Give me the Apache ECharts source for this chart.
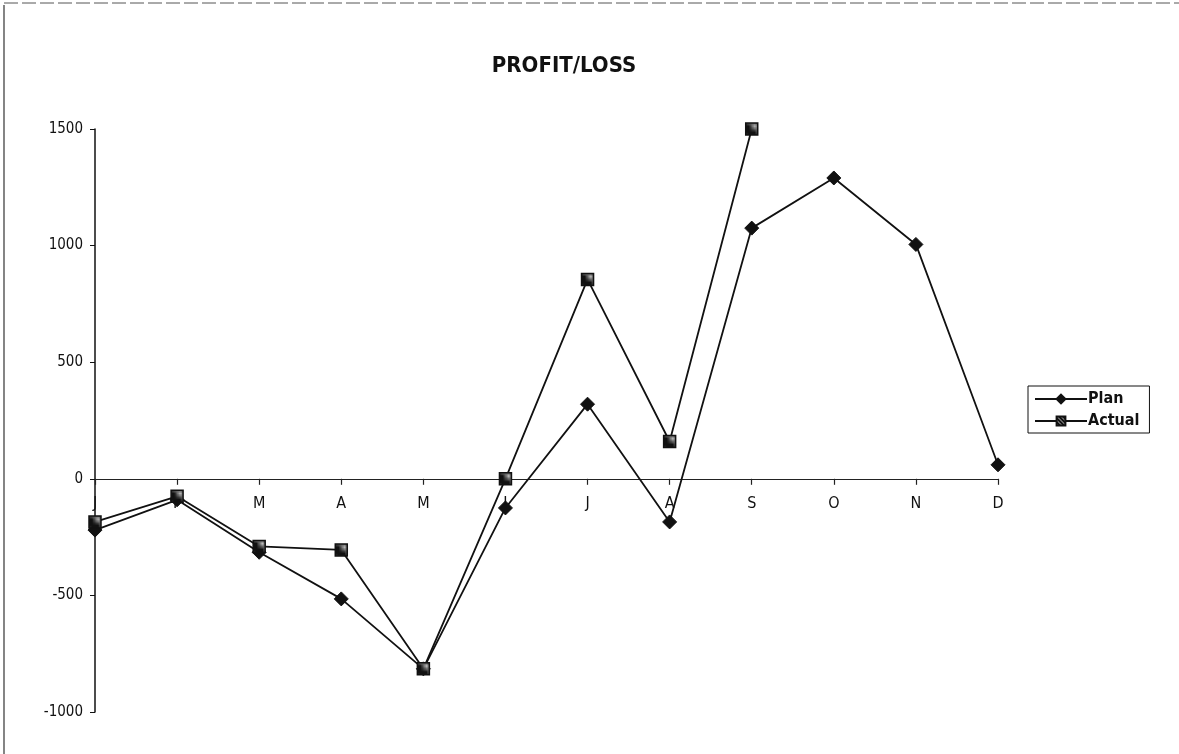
<!DOCTYPE html>
<html>
<head>
<meta charset="utf-8">
<script src="https://cdn.jsdelivr.net/npm/echarts@6/dist/echarts.min.js"></script>
<style>
html,body{margin:0;padding:0;background:#fff;}
#chart{width:1179px;height:754px;}
</style>
</head>
<body>
<div id="chart"></div>
<script>
const months = ['J','F','M','A','M','J','J','A','S','O','N','D'];
const planValues = [-220, -90, -315, -515, -815, -125, 320, -185, 1075, 1290, 1005, 60];
const actualValues = [-185, -75, -290, -305, -815, 0, 855, 160, 1500, null, null, null];
const yTicks = { min: -1000, max: 1500, step: 500 };

const FONT = '"Liberation Sans Narrow", "Arial Narrow", "DejaVu Sans Condensed", "Liberation Sans", sans-serif';

// hatched fill for the Actual markers
const pc = document.createElement('canvas');
pc.width = 4; pc.height = 4;
const pctx = pc.getContext('2d');
pctx.fillStyle = '#111';
pctx.fillRect(0, 0, 4, 4);
pctx.fillStyle = '#bbb';
pctx.fillRect(1, 0, 1, 1);
pctx.fillRect(3, 2, 1, 1);
pctx.fillRect(0, 3, 1, 1);
pctx.fillRect(2, 1, 1, 1);

const GRID = { left: 95, right: 181, top: 129, bottom: 42 };
const plotH = 754 - GRID.top - GRID.bottom;
// distance of the zero line above the bottom edge of the plot (derived from the axis range)
const zeroOffset = -plotH * (0 - yTicks.min) / (yTicks.max - yTicks.min);

const chart = echarts.init(document.getElementById('chart'));
chart.setOption({
  animation: false,
  backgroundColor: '#fff',
  title: {
    text: 'PROFIT/LOSS',
    left: 559,
    top: 50,
    textAlign: 'center',
    textStyle: { fontFamily: FONT, fontSize: 22, fontWeight: 'bold', color: '#111' }
  },
  legend: {
    orient: 'vertical',
    left: 1028,
    top: 386,
    itemWidth: 52,
    itemHeight: 11,
    itemGap: 6,
    padding: [5, 10, 4, 6],
    borderColor: '#111',
    borderWidth: 1,
    textStyle: { fontFamily: FONT, fontSize: 16, fontWeight: 'bold', color: '#111', padding: [0, 0, 0, -4] },
    data: ['Plan', 'Actual']
  },
  grid: { left: GRID.left, right: GRID.right, top: GRID.top, bottom: GRID.bottom, containLabel: false },
  xAxis: {
    type: 'category',
    data: months,
    boundaryGap: false,
    offset: zeroOffset,
    axisLine: { onZero: false, lineStyle: { color: '#222', width: 1.2 } },
    axisTick: { show: true, length: 6, alignWithLabel: true, lineStyle: { color: '#222', width: 1.2 } },
    axisLabel: { margin: 17, fontFamily: FONT, fontSize: 16, color: '#111', interval: 0 },
    splitLine: { show: false }
  },
  yAxis: {
    type: 'value',
    min: yTicks.min,
    max: yTicks.max,
    interval: yTicks.step,
    axisLine: { show: true, onZero: false, lineStyle: { color: '#111', width: 1.5 } },
    axisTick: { show: true, length: 5, lineStyle: { color: '#111' } },
    axisLabel: { margin: 12, fontFamily: FONT, fontSize: 15, color: '#111', formatter: v => String(v) },
    splitLine: { show: false }
  },
  series: [
    {
      name: 'Plan',
      type: 'line',
      data: planValues,
      symbol: 'diamond',
      symbolSize: 14,
      showAllSymbol: true,
      lineStyle: { color: '#111', width: 1.8 },
      itemStyle: { color: '#111', borderColor: '#111', borderWidth: 1 },
      z: 2
    },
    {
      name: 'Actual',
      type: 'line',
      data: actualValues,
      symbol: 'rect',
      symbolSize: 12,
      showAllSymbol: true,
      connectNulls: false,
      lineStyle: { color: '#111', width: 1.8 },
      itemStyle: { color: { image: pc, repeat: 'repeat' }, borderColor: '#111', borderWidth: 1.5 },
      z: 3
    }
  ],
  graphic: [
    { type: 'line', shape: { x1: 4, y1: 5, x2: 4, y2: 754 }, style: { stroke: '#333', lineWidth: 1.2 } },
    { type: 'line', shape: { x1: 4, y1: 3, x2: 1179, y2: 3 }, style: { stroke: '#555', lineWidth: 1, lineDash: [14, 4] } }
  ]
});
</script>
</body>
</html>
